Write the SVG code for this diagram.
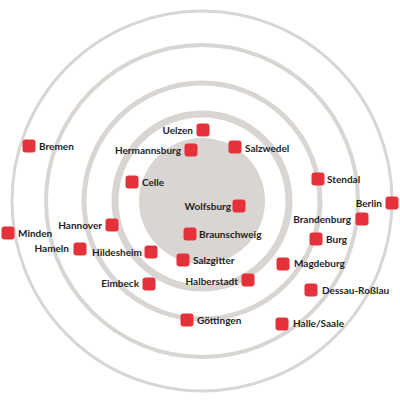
<svg xmlns="http://www.w3.org/2000/svg" width="400" height="400" viewBox="0 0 400 400">
<style>
.ring{fill:none;stroke:#d9d5d2}
.sq{fill:#e5323a}
.lb{font-family:Lato,"Liberation Sans",sans-serif;font-weight:bold;font-size:10px;fill:#1e1e1e}
.l{text-anchor:end}
</style>
<defs>
<rect id="s" class="sq" x="-6.5" y="-6.5" width="13" height="13" rx="3"/>
</defs>
<rect width="400" height="400" fill="#fff"/>
<g id="rings">
<circle cx="202" cy="201" r="63" fill="#d9d5d2"/>
<circle class="ring" cx="202" cy="201" r="87" stroke-width="7"/>
<circle class="ring" cx="202" cy="201" r="118" stroke-width="5"/>
<circle class="ring" cx="202" cy="201" r="156" stroke-width="4"/>
<circle class="ring" cx="202" cy="201" r="190" stroke-width="3"/>
</g>
<g id="connectors"></g>
<g id="uelzen"><use href="#s" x="203" y="130"/><text class="lb l" x="193" y="133.5">Uelzen</text></g>
<g id="hermannsburg"><use href="#s" x="191" y="150"/><text class="lb l" x="181" y="153.5">Hermannsburg</text></g>
<g id="salzwedel"><use href="#s" x="235" y="147"/><text class="lb" x="245" y="151.5">Salzwedel</text></g>
<g id="bremen"><use href="#s" x="29" y="146"/><text class="lb" x="39" y="149.5">Bremen</text></g>
<g id="celle"><use href="#s" x="132" y="182"/><text class="lb" x="142" y="185.5">Celle</text></g>
<g id="stendal"><use href="#s" x="318" y="179"/><text class="lb" x="327" y="182.5">Stendal</text></g>
<g id="berlin"><use href="#s" x="392" y="203"/><text class="lb l" x="382" y="206.5">Berlin</text></g>
<g id="brandenburg"><use href="#s" x="362" y="219"/><text class="lb l" x="351" y="222.5">Brandenburg</text></g>
<g id="wolfsburg"><use href="#s" x="239" y="206"/><text class="lb l" x="231" y="209.5">Wolfsburg</text></g>
<g id="braunschweig"><use href="#s" x="190" y="234"/><text class="lb" x="199" y="237.5">Braunschweig</text></g>
<g id="salzgitter"><use href="#s" x="183" y="260"/><text class="lb" x="193" y="264">Salzgitter</text></g>
<g id="hildesheim"><use href="#s" x="151" y="252"/><text class="lb l" x="142" y="255.5">Hildesheim</text></g>
<g id="hannover"><use href="#s" x="112" y="225"/><text class="lb l" x="102" y="229">Hannover</text></g>
<g id="minden"><use href="#s" x="8" y="233"/><text class="lb" x="18" y="236.5">Minden</text></g>
<g id="hameln"><use href="#s" x="80" y="249"/><text class="lb l" x="69" y="251.5">Hameln</text></g>
<g id="eimbeck"><use href="#s" x="149" y="284"/><text class="lb l" x="139" y="286.5">Eimbeck</text></g>
<g id="halberstadt"><use href="#s" x="248" y="280"/><text class="lb l" x="238" y="285">Halberstadt</text></g>
<g id="goettingen"><use href="#s" x="187" y="320"/><text class="lb" x="197" y="324">Göttingen</text></g>
<g id="halle"><use href="#s" x="282" y="324"/><text class="lb" x="293" y="326.5">Halle/Saale</text></g>
<g id="dessau"><use href="#s" x="311" y="290"/><text class="lb" x="322" y="293.5">Dessau-Roßlau</text></g>
<g id="magdeburg"><use href="#s" x="283" y="264"/><text class="lb" x="294" y="266.5">Magdeburg</text></g>
<g id="burg"><use href="#s" x="316" y="239"/><text class="lb" x="326" y="242.5">Burg</text></g>
</svg>
